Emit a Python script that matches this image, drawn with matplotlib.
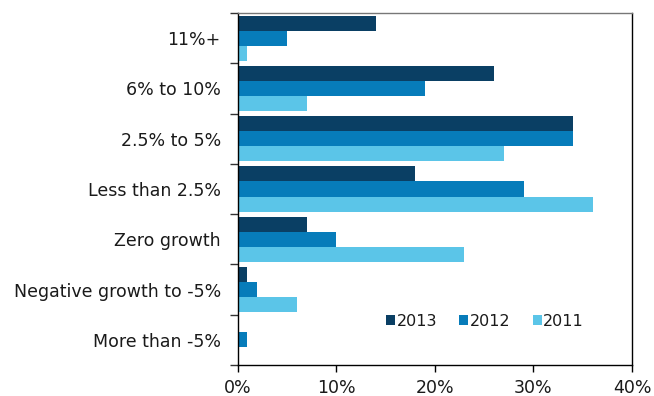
import matplotlib.pyplot as plt
import numpy as np
from matplotlib.ticker import FuncFormatter

categories = [
    "11%+",
    "6% to 10%",
    "2.5% to 5%",
    "Less than 2.5%",
    "Zero growth",
    "Negative growth to -5%",
    "More than -5%",
]
years = ["2013", "2012", "2011"]
values_2013 = [14, 26, 34, 18, 7, 1, 0]
values_2012 = [5, 19, 34, 29, 10, 2, 1]
values_2011 = [1, 7, 27, 36, 23, 6, 0]
colors = ["#0a3f64", "#077cba", "#5bc5e8"]
x_ticks = [0, 10, 20, 30, 40]

plt.rcParams["font.family"] = ["DejaVu Sans"]
FS = 12.5
TEXT = "#1a1a1a"

fig = plt.figure(figsize=(6.54, 3.96), dpi=100)
ax = fig.add_axes([237.5 / 654, 1 - 365 / 396, (632 - 237.5) / 654, (365 - 13) / 396])

n = len(categories)
pos = np.arange(n)
bar_h = 0.3
for i, (vals, label, color) in enumerate(zip([values_2013, values_2012, values_2011], years, colors)):
    ax.barh(pos + (i - 1) * bar_h, vals, height=bar_h, color=color, label=label)

ax.set_ylim(n - 0.5, -0.5)
ax.set_xlim(0, 40)
ax.set_xticks(x_ticks)
ax.xaxis.set_major_formatter(FuncFormatter(lambda v, _: f"{v:.0f}%"))

# category labels sit between the boundary ticks
ax.set_yticks(np.arange(n + 1) - 0.5)
ax.set_yticklabels([])
ax.set_yticks(pos, minor=True)
ax.set_yticklabels(categories, minor=True)
ax.tick_params(axis="y", which="minor", length=0, pad=12, labelsize=FS, labelcolor=TEXT)
ax.tick_params(axis="y", which="major", length=6, width=1, direction="out", color="#333333")
ax.tick_params(axis="x", length=5, width=1, direction="out", labelsize=FS, pad=5,
               color="#000000", labelcolor=TEXT)

for side in ["left", "bottom", "right"]:
    ax.spines[side].set_color("#000000")
ax.spines["top"].set_color("#777777")
for sp in ax.spines.values():
    sp.set_linewidth(1)

ax.legend(
    loc="center right",
    bbox_to_anchor=(0.878, 0.125),
    borderaxespad=0,
    borderpad=0,
    ncol=3,
    frameon=False,
    fontsize=11.5,
    labelcolor=TEXT,
    handlelength=0.55,
    handleheight=0.55,
    handletextpad=0.1,
    columnspacing=1.4,
)

fig.savefig("out.png", dpi=100)
